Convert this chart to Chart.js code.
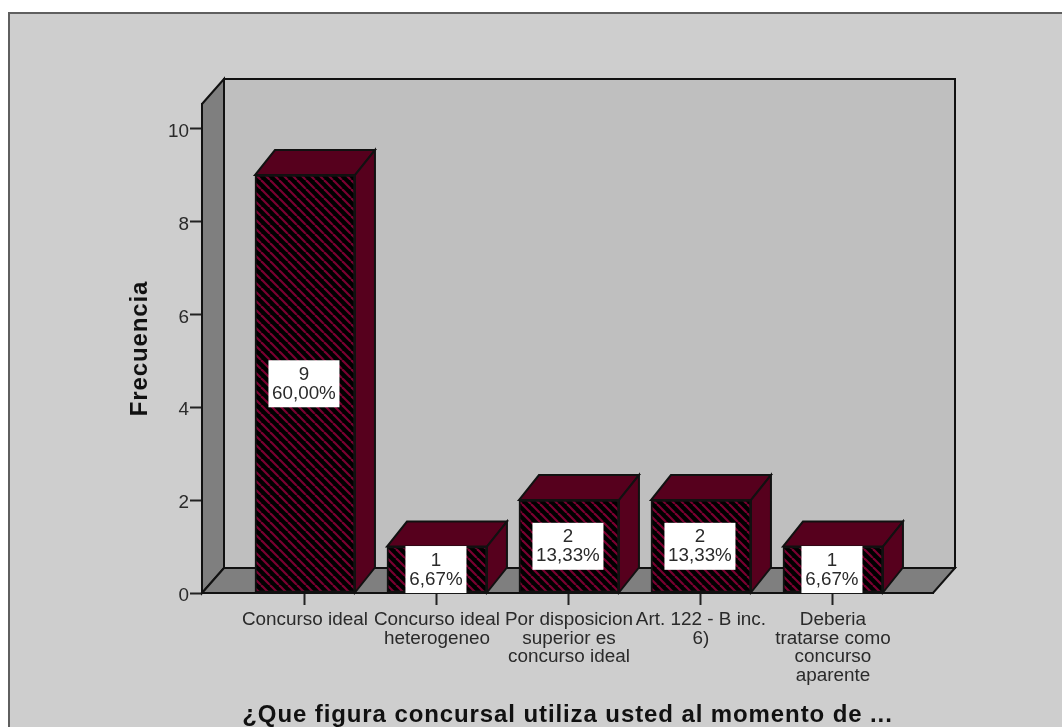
<!DOCTYPE html>
<html>
<head>
<meta charset="utf-8">
<style>html,body{margin:0;padding:0;background:#fff}canvas{display:block}</style>
<script src="https://cdn.jsdelivr.net/npm/chart.js@4"></script>
</head>
<body>
<canvas id="c" width="1062" height="727"></canvas>
<script>
const categories = [
  ["Concurso ideal"],
  ["Concurso ideal", "heterogeneo"],
  ["Por disposicion", "superior es", "concurso ideal"],
  ["Art. 122 - B inc.", "6)"],
  ["Deberia", "tratarse como", "concurso", "aparente"]
];
const frequencies = [9, 1, 2, 2, 1];
const percentLabels = ["60,00%", "6,67%", "13,33%", "13,33%", "6,67%"];
const yTickValues = [0, 2, 4, 6, 8, 10];
const xAxisTitle = "¿Que figura concursal utiliza usted al momento de ...";
const yAxisTitle = "Frecuencia";

const MAROON = "#56001d", WALL = "#bfbfbf", SIDE = "#7f7f7f", BG = "#cecece", INK = "#111";
const FONT = "'Liberation Sans', Arial, sans-serif";

function hatch() {
  const p = document.createElement("canvas");
  p.width = 9; p.height = 9;
  const g = p.getContext("2d");
  g.fillStyle = "#000"; g.fillRect(0, 0, 9, 9);
  g.strokeStyle = "#7a0030"; g.lineWidth = 2.2;
  [-9, 0, 9].forEach(o => { g.beginPath(); g.moveTo(o, 0); g.lineTo(o + 9, 9); g.stroke(); });
  return document.getElementById("c").getContext("2d").createPattern(p, "repeat");
}

function poly(ctx, pts, fill, lw) {
  ctx.beginPath();
  pts.forEach((q, i) => i ? ctx.lineTo(q[0], q[1]) : ctx.moveTo(q[0], q[1]));
  ctx.closePath();
  if (fill) { ctx.fillStyle = fill; ctx.fill(); }
  ctx.lineWidth = lw || 2; ctx.strokeStyle = INK; ctx.lineJoin = "miter"; ctx.stroke();
}

function spaceTitle(scale, spacing) {
  if (scale._spaced) return;
  scale._spaced = true;
  const orig = scale.drawTitle;
  scale.drawTitle = function () {
    const c = this.ctx;
    c.save();
    c.letterSpacing = spacing;
    orig.call(this);
    c.restore();
  };
}

const frame = {
  id: "frame",
  beforeDraw(chart) {
    const { ctx, chartArea: a } = chart;
    const dx = 22, dy = -25;
    spaceTitle(chart.scales.x, "0.9px");
    spaceTitle(chart.scales.y, "0.9px");
    ctx.save();
    ctx.fillStyle = "#fff"; ctx.fillRect(0, 0, chart.width, chart.height);
    ctx.fillStyle = BG; ctx.fillRect(9, 13, chart.width - 9, chart.height - 13);
    ctx.strokeStyle = "#5f5f5f"; ctx.lineWidth = 2;
    ctx.beginPath(); ctx.moveTo(9, chart.height); ctx.lineTo(9, 13); ctx.lineTo(chart.width, 13); ctx.stroke();
    poly(ctx, [[a.left + dx, a.top + dy], [a.right + dx, a.top + dy], [a.right + dx, a.bottom + dy], [a.left + dx, a.bottom + dy]], WALL);
    poly(ctx, [[a.left, a.top], [a.left + dx, a.top + dy], [a.left + dx, a.bottom + dy], [a.left, a.bottom]], SIDE);
    poly(ctx, [[a.left, a.bottom], [a.left + dx, a.bottom + dy], [a.right + dx, a.bottom + dy], [a.right, a.bottom]], SIDE);
    ctx.restore();
  },
  beforeDatasetsDraw(chart) {
    const { ctx } = chart;
    const dx = 20, dy = -25;
    ctx.save();
    chart.getDatasetMeta(0).data.forEach(b => {
      const l = b.x - b.width / 2, r = b.x + b.width / 2;
      poly(ctx, [[l, b.y], [l + dx, b.y + dy], [r + dx, b.y + dy], [r, b.y]], MAROON);
      poly(ctx, [[r, b.y], [r + dx, b.y + dy], [r + dx, b.base + dy], [r, b.base]], MAROON);
    });
    ctx.restore();
  },
  afterDatasetsDraw(chart) {
    const { ctx } = chart;
    ctx.save();
    ctx.font = "18.8px " + FONT;
    ctx.textAlign = "center";
    ctx.textBaseline = "middle";
    chart.getDatasetMeta(0).data.forEach((b, i) => {
      const cy = (b.y + b.base) / 2;
      const w = Math.ceil(ctx.measureText(percentLabels[i]).width) + 7, h = 47;
      ctx.fillStyle = "#fff"; ctx.fillRect(b.x - w / 2 - 1, cy - h / 2, w, h);
      ctx.fillStyle = "#2a2a2a";
      ctx.fillText(String(frequencies[i]), b.x - 1, cy - 9);
      ctx.fillText(percentLabels[i], b.x - 1, cy + 10);
    });
    ctx.restore();
  }
};

new Chart(document.getElementById("c"), {
  type: "bar",
  data: {
    datasets: [{
      data: categories.map((c, i) => ({ x: i, y: frequencies[i] })),
      backgroundColor: hatch(),
      borderColor: INK,
      borderWidth: 2,
      borderSkipped: false,
      barThickness: 100
    }]
  },
  options: {
    responsive: false,
    animation: false,
    events: [],
    layout: { padding: { top: 104, right: 129, left: 0, bottom: 0 } },
    plugins: { legend: { display: false }, tooltip: { enabled: false }, title: { display: false } },
    scales: {
      x: {
        type: "linear",
        offset: false,
        min: -0.78, max: 4.758,
        afterBuildTicks: s => { s.ticks = categories.map((c, i) => ({ value: i })); },
        afterFit: s => { s.height = 134; },
        grid: { offset: false, drawOnChartArea: false, drawTicks: true, tickLength: 12, tickColor: "#222", tickWidth: 2 },
        border: { color: INK, width: 2 },
        ticks: {
          autoSkip: false, maxRotation: 0, minRotation: 0, padding: 5,
          color: "#2a2a2a",
          font: { family: FONT, size: 18.9, lineHeight: 1.0 },
          callback: v => categories[v]
        },
        title: {
          display: true, text: xAxisTitle, color: "#111", padding: 0,
          font: { family: FONT, size: 24, weight: "bold", lineHeight: 1 }
        }
      },
      y: {
        min: 0, max: 10.53,
        afterBuildTicks: s => { s.ticks = yTickValues.map(v => ({ value: v })); },
        afterFit: s => { s.width = 202; },
        grid: { drawOnChartArea: false, drawTicks: true, tickLength: 12, tickColor: "#222", tickWidth: 2 },
        border: { color: INK, width: 2 },
        ticks: {
          padding: 1, labelOffset: 3, color: "#2a2a2a",
          font: { family: FONT, size: 18.9 }
        },
        title: {
          display: true, text: yAxisTitle, color: "#111",
          padding: { top: 128, bottom: 0 },
          font: { family: FONT, size: 24, weight: "bold", lineHeight: 1 }
        }
      }
    }
  },
  plugins: [frame]
});
</script>
</body>
</html>
